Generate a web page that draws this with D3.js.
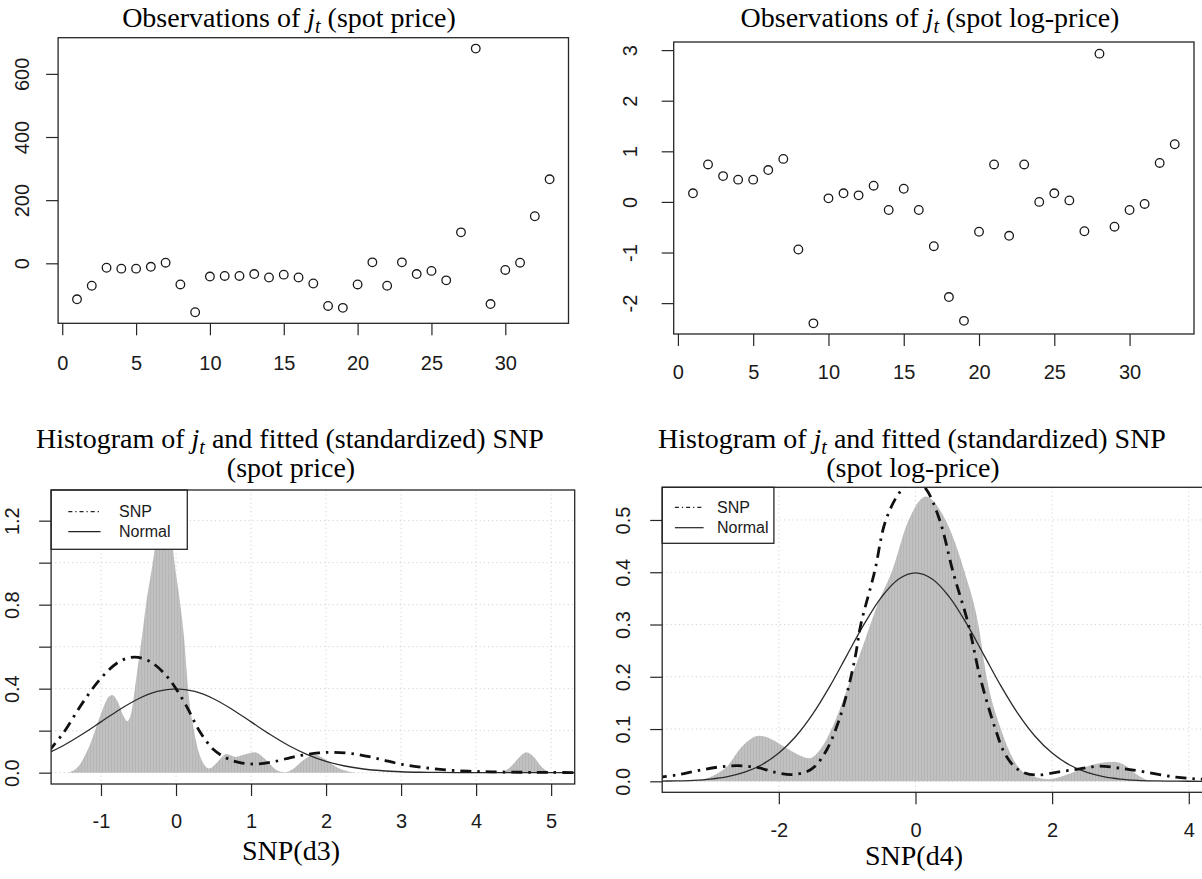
<!DOCTYPE html>
<html>
<head>
<meta charset="utf-8">
<script src="https://cdn.jsdelivr.net/npm/d3@7"></script>
<style>
  html, body { margin: 0; padding: 0; background: #fff; }
  svg { display: block; }
</style>
</head>
<body>
<svg id="chart" width="1202" height="879"></svg>
<script>
// ---------------- data ----------------
const obsIndex = [1,2,3,4,5,6,7,8,9,10,11,12,13,14,15,16,17,18,19,20,21,22,23,24,25,26,27,28,29,30,31,32,33];
const spotPrice = [-114,-71,-14,-17,-17,-11,2,-67,-155,-42,-40,-40,-34,-45,-36,-45,-64,-135,-141,-67,3,-71,3,-34,-24,-54,98,680,-129,-21,2,149,266];
const spotLogPrice = [0.17,0.74,0.51,0.44,0.44,0.63,0.85,-0.94,-2.40,0.07,0.17,0.13,0.32,-0.16,0.26,-0.16,-0.875,-1.88,-2.35,-0.59,0.74,-0.67,0.74,0.0,0.17,0.03,-0.58,2.93,-0.49,-0.16,-0.04,0.77,1.14];
const xTicksObs = [0,5,10,15,20,25,30];
const yTicksPrice = [0,200,400,600];
const yTicksLog = [-2,-1,0,1,2,3];

// kernel density of standardized jumps, spot price (d3)
const densD3X = [-1.43,-1.3,-1.15,-1.0,-0.9,-0.85,-0.78,-0.7,-0.65,-0.6,-0.53,-0.46,-0.4,-0.31,-0.25,-0.15,-0.07,-0.02,0.05,0.11,0.16,0.24,0.32,0.44,0.55,0.67,0.8,0.9,1.05,1.2,1.35,1.45,1.55,1.7,1.85,2.0,2.15,2.3,2.4,4.3,4.45,4.58,4.67,4.77,4.88,5.0];
const densD3Y = [0,0.03,0.13,0.28,0.36,0.37,0.34,0.27,0.245,0.28,0.45,0.63,0.80,1.0,1.15,1.29,1.16,1.0,0.82,0.63,0.40,0.20,0.08,0.02,0.05,0.089,0.075,0.085,0.097,0.06,0.01,0.002,0.015,0.06,0.085,0.06,0.025,0.005,0,0,0.025,0.075,0.097,0.075,0.025,0];
// fitted SNP density (d3)
const snpD3X = [-1.7,-1.5,-1.25,-1.0,-0.75,-0.55,-0.35,-0.15,0.0,0.15,0.31,0.5,0.68,0.85,1.06,1.3,1.6,1.9,2.1,2.4,2.7,3.0,3.3,3.6,3.9,4.2,4.6,5.0,5.4];
const snpD3Y = [0.10,0.19,0.33,0.45,0.53,0.55,0.53,0.47,0.40,0.31,0.20,0.11,0.068,0.048,0.041,0.052,0.078,0.094,0.097,0.088,0.066,0.040,0.024,0.013,0.007,0.004,0.002,0.001,0.0005];

// standard normal reference curve
const normX = [-4,-3.75,-3.5,-3.25,-3,-2.75,-2.5,-2.25,-2,-1.75,-1.5,-1.25,-1,-0.75,-0.5,-0.25,0,0.25,0.5,0.75,1,1.25,1.5,1.75,2,2.25,2.5,2.75,3,3.25,3.5,3.75,4,4.5,5,5.5,6];
const normY = [0.0001,0.0004,0.0009,0.0020,0.0044,0.0091,0.0175,0.0317,0.0540,0.0863,0.1295,0.1826,0.2420,0.3011,0.3521,0.3867,0.3989,0.3867,0.3521,0.3011,0.2420,0.1826,0.1295,0.0863,0.0540,0.0317,0.0175,0.0091,0.0044,0.0020,0.0009,0.0004,0.0001,0,0,0,0];

// kernel density of standardized jumps, spot log-price (d4)
const densD4X = [-3.3,-3.1,-2.9,-2.76,-2.55,-2.4,-2.29,-2.1,-1.92,-1.7,-1.56,-1.4,-1.19,-0.97,-0.74,-0.55,-0.35,-0.1,0.157,0.3,0.44,0.72,0.92,1.04,1.25,1.5,1.7,1.95,2.2,2.5,2.75,2.91,3.1,3.25,3.4,3.5];
const densD4Y = [0,0.004,0.015,0.028,0.065,0.082,0.087,0.08,0.066,0.05,0.044,0.06,0.111,0.187,0.27,0.34,0.40,0.50,0.545,0.53,0.50,0.40,0.30,0.20,0.10,0.028,0.01,0.004,0.012,0.028,0.036,0.0375,0.028,0.012,0.002,0];
// fitted SNP density (d4)
const snpD4X = [-3.8,-3.5,-3.2,-2.9,-2.6,-2.3,-2.05,-1.81,-1.6,-1.47,-1.3,-1.135,-1.0,-0.882,-0.8,-0.6,-0.433,-0.2,0.0,0.15,0.354,0.551,0.775,0.944,1.169,1.3,1.449,1.6,1.787,2.1,2.404,2.685,3.0,3.36,3.81,4.2,4.6];
const snpD4Y = [0.007,0.012,0.02,0.027,0.030,0.026,0.017,0.013,0.018,0.029,0.06,0.111,0.17,0.238,0.30,0.40,0.50,0.558,0.575,0.56,0.50,0.40,0.30,0.20,0.10,0.055,0.028,0.016,0.012,0.018,0.024,0.029,0.025,0.018,0.008,0.004,0.002];

const xTicksD3 = [-1,0,1,2,3,4,5];
const yTicksD3 = [0,0.2,0.4,0.6,0.8,1.0,1.2];
const yLabelsD3 = ["0.0","","0.4","","0.8","","1.2"];
const xTicksD4 = [-2,0,2,4];
const yTicksD4 = [0,0.1,0.2,0.3,0.4,0.5];
const yLabelsD4 = ["0.0","0.1","0.2","0.3","0.4","0.5"];
const legendLabels = ["SNP","Normal"];

// ---------------- drawing ----------------
const SANS = '"Liberation Sans", Arial, Helvetica, sans-serif';
const SERIF = '"Liberation Serif", "Times New Roman", serif';
const INK = "#262626";
const svg = d3.select("#chart");
const defs = svg.append("defs");

// vertical-stripe grey used for the density fill
const pat = defs.append("pattern").attr("id", "greyfill")
  .attr("patternUnits", "userSpaceOnUse").attr("width", 3).attr("height", 12);
pat.append("rect").attr("width", 3).attr("height", 12).attr("fill", "#c0c0c0");
pat.append("rect").attr("width", 1).attr("height", 12).attr("fill", "#b6b6b6");

function panel(p) {
  const x = d3.scaleLinear().domain(p.xlim).range([p.left, p.right]);
  const y = d3.scaleLinear().domain(p.ylim).range([p.bottom, p.top]);
  const g = svg.append("g");
  defs.append("clipPath").attr("id", "clip-" + p.id).append("rect")
    .attr("x", p.left).attr("y", p.top)
    .attr("width", p.right - p.left).attr("height", p.bottom - p.top);
  const grid = g.append("g");
  const plot = g.append("g").attr("clip-path", `url(#clip-${p.id})`);

  // x axis
  const xa = g.append("g").attr("transform", `translate(0,${p.bottom})`)
    .call(d3.axisBottom(x).tickValues(p.xTicks).tickSize(12).tickFormat(d => String(d)));
  xa.select(".domain").remove();
  xa.selectAll(".tick line").attr("stroke", INK).attr("stroke-width", 1.2);
  xa.selectAll(".tick text").attr("y", p.xLabelBase).attr("dy", 0)
    .attr("font-family", SANS).attr("font-size", 20).attr("fill", "#1a1a1a");

  // y axis with rotated labels
  const ya = g.append("g").attr("transform", `translate(${p.left},0)`)
    .call(d3.axisLeft(y).tickValues(p.yTicks).tickSize(12)
      .tickFormat((d, i) => p.yLabels ? p.yLabels[i] : String(d)));
  ya.select(".domain").remove();
  ya.selectAll(".tick line").attr("stroke", INK).attr("stroke-width", 1.2);
  ya.selectAll(".tick text")
    .attr("x", null).attr("dy", 0)
    .attr("transform", `translate(${p.yLabelBase - p.left},0) rotate(-90)`)
    .attr("text-anchor", "middle")
    .attr("font-family", SANS).attr("font-size", 20).attr("fill", "#1a1a1a");

  return { x, y, g, grid, plot, p };
}

function frame(P) {
  const p = P.p;
  P.g.append("rect").attr("x", p.left).attr("y", p.top)
    .attr("width", p.right - p.left).attr("height", p.bottom - p.top)
    .attr("fill", "none").attr("stroke", INK).attr("stroke-width", 1.3);
}

function mathTitle(cx, base, before, after) {
  const t = svg.append("text").attr("x", cx).attr("y", base)
    .attr("text-anchor", "middle").attr("font-family", SERIF)
    .attr("font-size", 28).attr("fill", "#000").style("white-space", "pre");
  t.append("tspan").text(before);
  t.append("tspan").attr("font-style", "italic").text("j");
  t.append("tspan").attr("font-style", "italic").attr("font-size", 20).attr("dy", 6).text("t");
  t.append("tspan").attr("dy", -6).text(after);
}

function plainText(cx, base, str) {
  svg.append("text").attr("x", cx).attr("y", base).attr("text-anchor", "middle")
    .attr("font-family", SERIF).attr("font-size", 28).attr("fill", "#000").text(str);
}

function scatter(P, xs, ys) {
  P.plot.selectAll("circle").data(xs).join("circle")
    .attr("cx", d => P.x(d)).attr("cy", (d, i) => P.y(ys[i])).attr("r", 4.3)
    .attr("fill", "none").attr("stroke", "#1a1a1a").attr("stroke-width", 1.3);
}

function densityPanel(P, dx, dy, sx, sy) {
  const p = P.p;
  // dotted grid at tick positions
  P.grid.selectAll("line.v").data(p.xTicks).join("line").attr("class", "v")
    .attr("x1", d => P.x(d)).attr("x2", d => P.x(d)).attr("y1", p.top).attr("y2", p.bottom)
    .attr("stroke", "#d3d3d3").attr("stroke-width", 1).attr("stroke-dasharray", "1.2,3");
  P.grid.selectAll("line.h").data(p.yTicks).join("line").attr("class", "h")
    .attr("y1", d => P.y(d)).attr("y2", d => P.y(d)).attr("x1", p.left).attr("x2", p.right)
    .attr("stroke", "#d3d3d3").attr("stroke-width", 1).attr("stroke-dasharray", "1.2,3");

  const area = d3.area().x(d => P.x(d[0])).y0(P.y(0)).y1(d => P.y(d[1])).curve(d3.curveMonotoneX);
  P.plot.append("path").datum(dx.map((v, i) => [v, dy[i]]))
    .attr("d", area).attr("fill", "url(#greyfill)");

  const line = d3.line().x(d => P.x(d[0])).y(d => P.y(d[1])).curve(d3.curveCatmullRom.alpha(0.5));
  P.plot.append("path").datum(normX.map((v, i) => [v, normY[i]]))
    .attr("d", line).attr("fill", "none").attr("stroke", "#2b2b2b").attr("stroke-width", 1.3);
  P.plot.append("path").datum(sx.map((v, i) => [v, sy[i]]))
    .attr("d", line).attr("fill", "none").attr("stroke", "#111").attr("stroke-width", 2.8)
    .attr("stroke-dasharray", "11,6,2.5,6");

  // legend
  const L = p.legend;
  P.g.append("rect").attr("x", p.left).attr("y", p.top)
    .attr("width", L.w).attr("height", L.h)
    .attr("fill", "#fff").attr("stroke", INK).attr("stroke-width", 1.3);
  legendLabels.forEach((lab, i) => {
    const yy = p.top + L.rows[i];
    P.g.append("line").attr("x1", L.x1).attr("x2", L.x2).attr("y1", yy).attr("y2", yy)
      .attr("stroke", "#222").attr("stroke-width", 1.2)
      .attr("stroke-dasharray", i === 0 ? "4,3,1.2,3" : null);
    P.g.append("text").attr("x", L.tx).attr("y", yy).attr("dy", "0.36em")
      .attr("font-family", SANS).attr("font-size", 16).attr("fill", "#1a1a1a").text(lab);
  });
}

// --- top left: observations (spot price)
const TL = panel({ id: "tl", left: 58.1, right: 568.5, top: 37.7, bottom: 323.3,
  xlim: [-0.28, 34.28], ylim: [-190, 714.5], xTicks: xTicksObs, yTicks: yTicksPrice,
  xLabelBase: 47, yLabelBase: 28.8 });
scatter(TL, obsIndex, spotPrice);
frame(TL);
mathTitle(289, 27, "Observations of ", " (spot price)");

// --- top right: observations (spot log-price)
const TR = panel({ id: "tr", left: 673.7, right: 1194, top: 42, bottom: 334,
  xlim: [-0.28, 34.28], ylim: [-2.61, 3.16], xTicks: xTicksObs, yTicks: yTicksLog,
  xLabelBase: 45, yLabelBase: 636.5 });
scatter(TR, obsIndex, spotLogPrice);
frame(TR);
mathTitle(930, 27, "Observations of ", " (spot log-price)");

// --- bottom left: density (spot price)
const BL = panel({ id: "bl", left: 51.1, right: 574.7, top: 490, bottom: 784,
  xlim: [-1.665, 5.314], ylim: [-0.054, 1.346], xTicks: xTicksD3, yTicks: yTicksD3,
  yLabels: yLabelsD3, xLabelBase: 44, yLabelBase: 19.2,
  legend: { w: 136.2, h: 59.3, rows: [21.7, 41.7], x1: 68.3, x2: 100.6, tx: 119 } });
densityPanel(BL, densD3X, densD3Y, snpD3X, snpD3Y);
frame(BL);
mathTitle(290, 448, "Histogram of ", " and fitted (standardized) SNP");
plainText(291, 477, "(spot price)");
plainText(291, 860, "SNP(d3)");

// --- bottom right: density (spot log-price)
const BR = panel({ id: "br", left: 662.2, right: 1206, top: 487.3, bottom: 792.3,
  xlim: [-3.707, 4.252], ylim: [-0.021, 0.5625], xTicks: xTicksD4, yTicks: yTicksD4,
  yLabels: yLabelsD4, xLabelBase: 45, yLabelBase: 630,
  legend: { w: 111.7, h: 56, rows: [20, 40.4], x1: 674.9, x2: 703.6, tx: 717 } });
densityPanel(BR, densD4X, densD4Y, snpD4X, snpD4Y);
frame(BR);
mathTitle(912, 448, "Histogram of ", " and fitted (standardized) SNP");
plainText(913, 477, "(spot log-price)");
plainText(914, 865, "SNP(d4)");
</script>
</body>
</html>
